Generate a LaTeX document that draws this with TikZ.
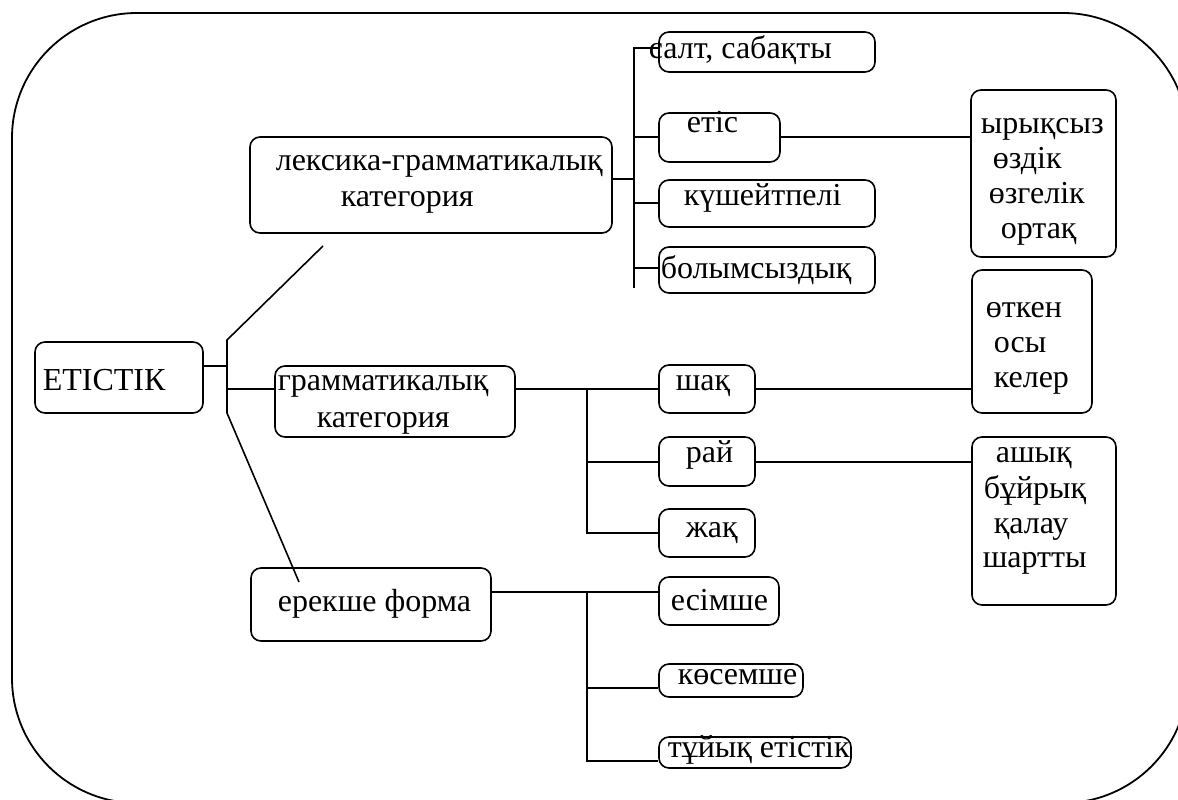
\documentclass[tikz,border=0pt]{standalone}
\usepackage{fontspec}
\setmainfont{Liberation Serif}
\usetikzlibrary{fit}
\begin{document}
\begin{tikzpicture}[x=1pt,y=-1pt,
  line width=1.6pt,
  box/.style={draw, rounded corners=10pt, inner sep=0pt, line width=1.6pt},
  txt/.style={anchor=base west, inner sep=0pt, font=\fontsize{32}{37}\selectfont},
  link/.style={line width=1.6pt}]
\useasboundingbox (0,0) rectangle (1178,800);

% outer rounded frame, partly running off the page
\begin{scope}
  \clip (0,0) rectangle (1178,800);
  \draw[line width=1.8pt, rounded corners=125pt] (12,13) rectangle (1188,803);
\end{scope}

% boxes
\node[box, fit={(35,342) (203,413)}] (et) {};
\node[box, fit={(250,137) (612,233)}] (lex) {};
\node[box, fit={(275,366) (515,437)}] (gram) {};
\node[box, fit={(251,568) (491,641)}] (ere) {};
\node[box, fit={(659,32) (875,72)}] (salt) {};
\node[box, fit={(659,113) (780,162)}] (etis) {};
\node[box, fit={(659,180) (875,227)}] (kush) {};
\node[box, fit={(659,247) (875,293)}] (bol) {};
\node[box, fit={(971,90) (1116,257)}] (irq) {};
\node[box, fit={(659,365) (755,413)}] (shaq) {};
\node[box, fit={(659,437) (755,486)}] (rai) {};
\node[box, fit={(659,509) (755,557)}] (zhaq) {};
\node[box, fit={(972,270) (1092,413)}] (otk) {};
\node[box, fit={(972,437) (1116,605)}] (ash) {};
\node[box, fit={(659,577) (779,625)}] (esim) {};
\node[box, fit={(659,664) (803,697)}] (kos) {};
\node[box, fit={(659,737) (851,768)}] (tuy) {};

% texts
\node[txt] (etT) at (42,390) {ЕТІСТІК};
\node[txt] (lexT1) at (275,170) {лексика-грамматикалық};
\node[txt] (lexT2) at (340,206) {категория};
\node[txt] (gramT1) at (277,390) {грамматикалық};
\node[txt] (gramT2) at (316,427) {категория};
\node[txt] (ereT) at (277,611) {ерекше форма};
\node[txt] (saltT) at (648,59) {салт, сабақты};
\node[txt] (etisT) at (686,132) {етіс};
\node[txt] (kushT) at (683,205) {күшейтпелі};
\node[txt] (bolT) at (660,278) {болымсыздық};
\node[txt] (irqT1) at (980,133) {ырықсыз};
\node[txt] (irqT2) at (992,168) {өздік};
\node[txt] (irqT3) at (988,203) {өзгелік};
\node[txt] (irqT4) at (1000,238) {ортақ};
\node[txt] (shaqT) at (675,390) {шақ};
\node[txt] (raiT) at (685,462) {рай};
\node[txt] (zhaqT) at (685,537) {жақ};
\node[txt] (otkT1) at (985,317) {өткен};
\node[txt] (otkT2) at (993,352) {осы};
\node[txt] (otkT3) at (993,387) {келер};
\node[txt] (ashT1) at (995,462) {ашық};
\node[txt] (ashT2) at (983,498) {бұйрық};
\node[txt] (ashT3) at (993,533) {қалау};
\node[txt] (ashT4) at (982,567) {шартты};
\node[txt] (esimT) at (670,610) {есімше};
\node[txt] (kosT) at (677,684) {көсемше};
\node[txt] (tuyT) at (667,757) {тұйық етістік};

% main bar
\coordinate (m1) at (227,340);
\coordinate (m2) at (227,413);
\coordinate (mE) at (227,366);
\coordinate (mG) at (227,389);
\coordinate (lexTail) at (323,246);
\coordinate (ereTail) at (299,582);
\draw[link] (lexTail) -- (m1) -- (m2) -- (ereTail);
\draw[link] (et.east |- mE) -- (mE);
\draw[link] (mG) -- (gram.west |- mG);

% upper bar
\coordinate (u1) at (634,48);
\coordinate (u2) at (634,288);
\coordinate (uL) at (634,179);
\coordinate (uE) at (634,137);
\coordinate (uK) at (634,203);
\coordinate (uB) at (634,268);
\draw[link] (salt.west |- u1) -- (u1) -- (u2);
\draw[link] (lex.east |- uL) -- (uL);
\draw[link] (uE) -- (etis.west |- uE);
\draw[link] (uK) -- (kush.west |- uK);
\draw[link] (uB) -- (bol.west |- uB);
\draw[link] (etis.east |- uE) -- (irq.west |- uE);

% middle bar
\coordinate (g1) at (587,389);
\coordinate (gR) at (587,462);
\coordinate (g2) at (587,533);
\draw[link] (gram.east |- g1) -- (g1) -- (g2) -- (zhaq.west |- g2);
\draw[link] (g1) -- (shaq.west |- g1);
\draw[link] (gR) -- (rai.west |- gR);
\draw[link] (shaq.east |- g1) -- (otk.west |- g1);
\draw[link] (rai.east |- gR) -- (ash.west |- gR);

% lower bar
\coordinate (f1) at (587,592);
\coordinate (fK) at (587,688);
\coordinate (f2) at (587,761);
\draw[link] (ere.east |- f1) -- (f1) -- (f2) -- (tuy.west |- f2);
\draw[link] (f1) -- (esim.west |- f1);
\draw[link] (fK) -- (kos.west |- fK);
\end{tikzpicture}
\end{document}
